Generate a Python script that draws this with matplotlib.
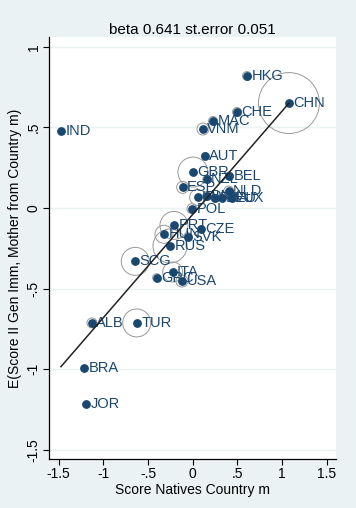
import numpy as np
import matplotlib.pyplot as plt

plt.rcParams['font.family'] = ['Liberation Sans', 'DejaVu Sans']

# country labels, native score (x), 2nd-gen immigrant score (y), weight (ring size)
countries = ['HKG', 'CHN', 'CHE', 'MAC', 'VNM', 'IND', 'AUT', 'GBR', 'NZL', 'BEL',
             'ESP', 'NLD', 'IRL', 'DNK', 'FRA', 'DEU', 'LUX', 'POL', 'PRT', 'CZE',
             'HUN', 'SVK', 'RUS', 'SCG', 'ITA', 'GRC', 'USA', 'ALB', 'TUR', 'BRA', 'JOR']
x_native = [0.607, 1.077, 0.496, 0.227, 0.115, -1.473, 0.138, 0.003, 0.157, 0.410,
            -0.112, 0.403, 0.056, 0.157, 0.249, 0.324, 0.436, -0.008, -0.209, 0.096,
            -0.321, -0.049, -0.254, -0.642, -0.224, -0.403, -0.120, -1.126, -0.626, -1.216, -1.194]
y_imm = [0.819, 0.651, 0.596, 0.540, 0.490, 0.478, 0.323, 0.223, 0.178, 0.199,
         0.128, 0.105, 0.066, 0.076, 0.060, 0.064, 0.060, -0.004, -0.108, -0.132,
         -0.163, -0.178, -0.236, -0.331, -0.397, -0.432, -0.453, -0.713, -0.713, -0.995, -1.218]
weight = [20, 930, 20, 20, 36, 4, 12, 225, 16, 16,
          36, 25, 64, 16, 16, 12, 12, 25, 196, 12,
          81, 16, 289, 196, 100, 16, 36, 25, 196, 4, 4]

beta = 0.641
se = 0.051
intercept = -0.04

navy = '#1a476f'
bg = '#eaf2f3'

fig = plt.figure(figsize=(3.56, 5.08), dpi=100, facecolor=bg)
ax = fig.add_axes([0.1376, 0.0965, 0.8062, 0.8307])
ax.set_facecolor('white')

x = np.array(x_native)
y = np.array(y_imm)
w = np.array(weight)

# weight rings
ax.scatter(x, y, s=w * 2.07, facecolors='none', edgecolors='#999999', linewidths=0.7, zorder=2)
# points
ax.scatter(x, y, s=28, color=navy, zorder=3)
for lab, xi, yi in zip(countries, x, y):
    ax.annotate(lab, (xi, yi), xytext=(3.2, 0), textcoords='offset points',
                va='center', ha='left', color=navy, fontsize=10.5, zorder=4)

# fitted line
xs = np.array([x.min(), x.max()])
ax.plot(xs, intercept + beta * xs, color='#222222', lw=1.1, zorder=5)

ax.set_xlim(-1.607, 1.603)
ax.set_ylim(-1.557, 1.061)
ax.set_xticks([-1.5, -1, -0.5, 0, 0.5, 1, 1.5])
ax.set_xticklabels(['-1.5', '-1', '-.5', '0', '.5', '1', '1.5'], fontsize=10)
ax.set_yticks([1, 0.5, 0, -0.5, -1, -1.5])
ax.set_yticklabels(['1', '.5', '0', '-.5', '-1', '-1.5'], fontsize=10, rotation=90, va='center')
ax.tick_params(length=4, width=0.8, pad=2)
ax.grid(axis='y', color=bg, lw=1)
ax.set_axisbelow(True)
for s in ['top', 'right']:
    ax.spines[s].set_visible(False)
ax.spines['left'].set_linewidth(0.9)
ax.spines['bottom'].set_linewidth(0.9)

ax.set_xlabel('Score Natives Country m', fontsize=10, labelpad=1)
ax.set_ylabel('E(Score II Gen Imm, Mother from Country m)', fontsize=10, labelpad=3)
ax.set_title('beta %.3f st.error %.3f' % (beta, se), fontsize=11, pad=1)

fig.savefig('out.png', dpi=100, facecolor=bg)
